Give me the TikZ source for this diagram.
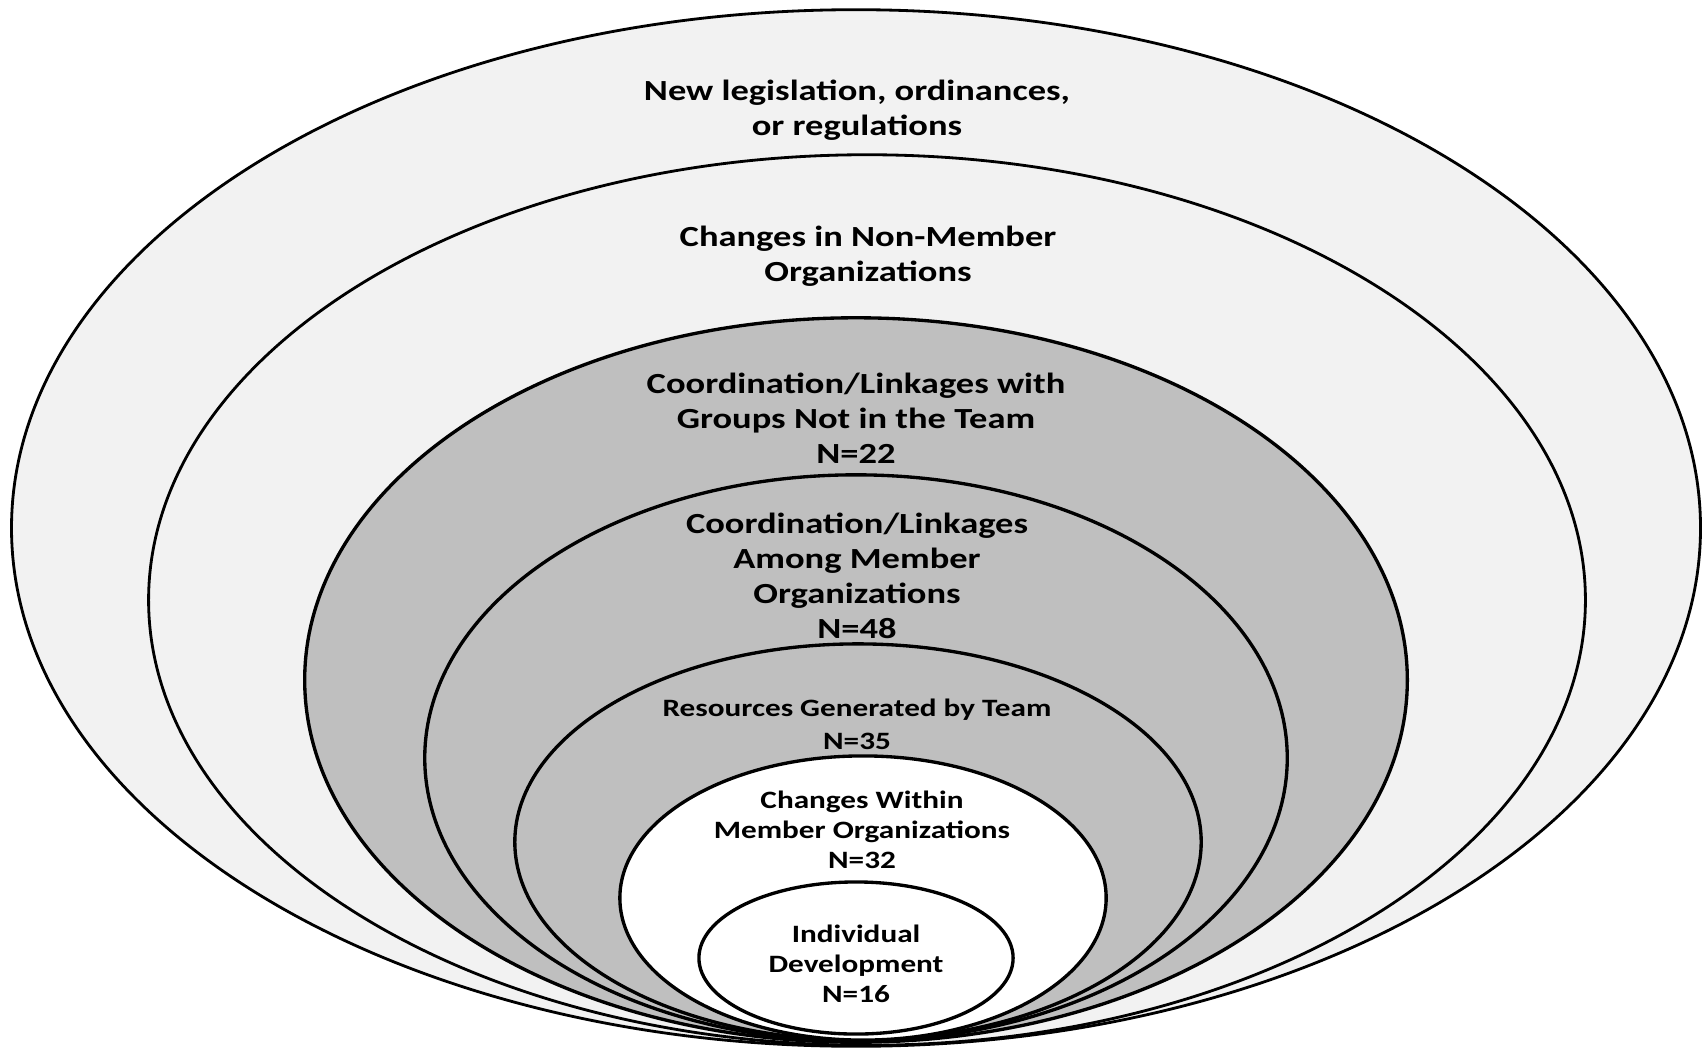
\documentclass[tikz,border=0pt]{standalone}
\usepackage{fontspec}
\setmainfont{Carlito}
\newfontfamily\widefont[FakeStretch=1.25]{Carlito}
\definecolor{lightfill}{HTML}{F2F2F2}
\definecolor{midfill}{HTML}{BFBFBF}
\begin{document}
\begin{tikzpicture}[x=0.01cm,y=-0.01cm,
  ring/.style={draw=black,line width=0.95pt},
  outerring/.style={draw=black,line width=0.8pt},
  bigtxt/.style={align=center,font=\widefont\bfseries\fontsize{8.3pt}{10pt}\selectfont,inner sep=0pt},
  smalltxt/.style={align=center,font=\widefont\bfseries\fontsize{7.1pt}{8.6pt}\selectfont,inner sep=0pt}]
\useasboundingbox[fill=white] (0,0) rectangle (1707,1049);
\draw[outerring,fill=lightfill] (856,528) ellipse [x radius=8.44cm, y radius=5.18cm];
\draw[outerring,fill=lightfill] (867,600) ellipse [x radius=7.18cm, y radius=4.45cm];
\draw[ring,fill=midfill] (856,680) ellipse [x radius=5.51cm, y radius=3.62cm];
\draw[ring,fill=midfill] (856,758) ellipse [x radius=4.31cm, y radius=2.83cm];
\draw[ring,fill=midfill] (858,842) ellipse [x radius=3.43cm, y radius=1.98cm];
\draw[ring,fill=white] (863,898) ellipse [x radius=2.43cm, y radius=1.42cm];
\draw[ring,fill=white] (856,958) ellipse [x radius=1.57cm, y radius=0.76cm];
\node[bigtxt] (t1) at (857,110) {New legislation, ordinances,\\or regulations};
\node[bigtxt] (t2) at (868,256) {Changes in Non-Member\\Organizations};
\node[bigtxt] (t3) at (856,418) {Coordination/Linkages with\\Groups Not in the Team\\N=22};
\node[bigtxt] (t4) at (857,576) {Coordination/Linkages\\Among Member\\Organizations\\N=48};
\node[smalltxt,text depth=0pt] (t5) at (857,708) {Resources Generated by Team};
\node[smalltxt] (t5n) at (857,741) {N=35};
\node[smalltxt] (t6) at (862,830) {Changes Within\\Member Organizations\\N=32};
\node[smalltxt] (t7) at (856,964) {Individual\\Development\\N=16};
\end{tikzpicture}
\end{document}
